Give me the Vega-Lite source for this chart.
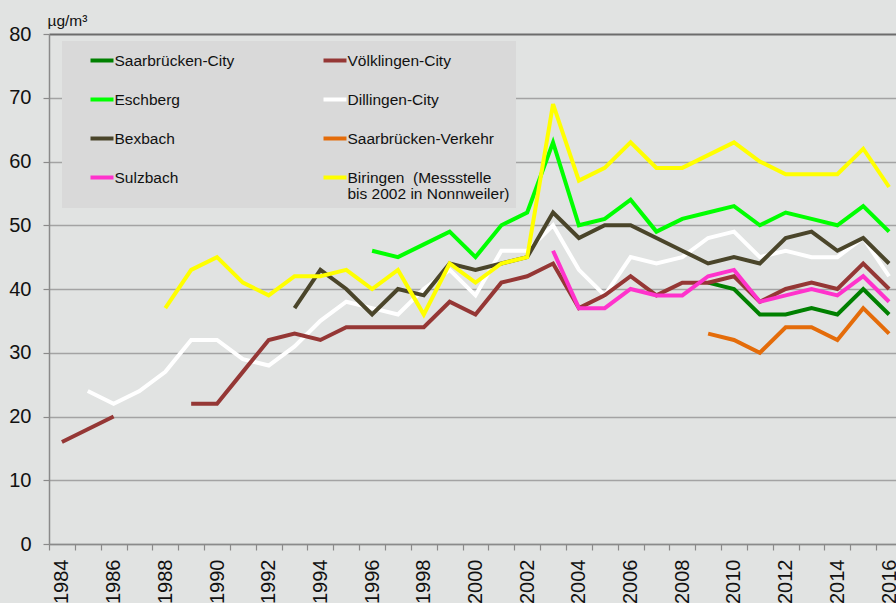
{
  "$schema": "https://vega.github.io/schema/vega-lite/v6.json",
  "width": 847,
  "height": 510,
  "autosize": {"type": "none"},
  "padding": {"left": 49, "top": 34, "right": 0, "bottom": 59},
  "background": "#e1e3e2",
  "config": {"view": {"stroke": null}, "font": "Liberation Sans"},
  "data": {"values": [
    {"station": "Saarbrücken-City", "year": 2009, "value": 41},
    {"station": "Saarbrücken-City", "year": 2010, "value": 40},
    {"station": "Saarbrücken-City", "year": 2011, "value": 36},
    {"station": "Saarbrücken-City", "year": 2012, "value": 36},
    {"station": "Saarbrücken-City", "year": 2013, "value": 37},
    {"station": "Saarbrücken-City", "year": 2014, "value": 36},
    {"station": "Saarbrücken-City", "year": 2015, "value": 40},
    {"station": "Saarbrücken-City", "year": 2016, "value": 36},
    {"station": "Dillingen-City", "year": 1985, "value": 24},
    {"station": "Dillingen-City", "year": 1986, "value": 22},
    {"station": "Dillingen-City", "year": 1987, "value": 24},
    {"station": "Dillingen-City", "year": 1988, "value": 27},
    {"station": "Dillingen-City", "year": 1989, "value": 32},
    {"station": "Dillingen-City", "year": 1990, "value": 32},
    {"station": "Dillingen-City", "year": 1991, "value": 29},
    {"station": "Dillingen-City", "year": 1992, "value": 28},
    {"station": "Dillingen-City", "year": 1993, "value": 31},
    {"station": "Dillingen-City", "year": 1994, "value": 35},
    {"station": "Dillingen-City", "year": 1995, "value": 38},
    {"station": "Dillingen-City", "year": 1996, "value": 37},
    {"station": "Dillingen-City", "year": 1997, "value": 36},
    {"station": "Dillingen-City", "year": 1998, "value": 40},
    {"station": "Dillingen-City", "year": 1999, "value": 43},
    {"station": "Dillingen-City", "year": 2000, "value": 39},
    {"station": "Dillingen-City", "year": 2001, "value": 46},
    {"station": "Dillingen-City", "year": 2002, "value": 46},
    {"station": "Dillingen-City", "year": 2003, "value": 50},
    {"station": "Dillingen-City", "year": 2004, "value": 43},
    {"station": "Dillingen-City", "year": 2005, "value": 39},
    {"station": "Dillingen-City", "year": 2006, "value": 45},
    {"station": "Dillingen-City", "year": 2007, "value": 44},
    {"station": "Dillingen-City", "year": 2008, "value": 45},
    {"station": "Dillingen-City", "year": 2009, "value": 48},
    {"station": "Dillingen-City", "year": 2010, "value": 49},
    {"station": "Dillingen-City", "year": 2011, "value": 45},
    {"station": "Dillingen-City", "year": 2012, "value": 46},
    {"station": "Dillingen-City", "year": 2013, "value": 45},
    {"station": "Dillingen-City", "year": 2014, "value": 45},
    {"station": "Dillingen-City", "year": 2015, "value": 48},
    {"station": "Dillingen-City", "year": 2016, "value": 42},
    {"station": "Völklingen-City", "year": 1984, "value": 16},
    {"station": "Völklingen-City", "year": 1985, "value": 18},
    {"station": "Völklingen-City", "year": 1986, "value": 20},
    {"station": "Völklingen-City", "year": 1987, "value": null},
    {"station": "Völklingen-City", "year": 1988, "value": null},
    {"station": "Völklingen-City", "year": 1989, "value": 22},
    {"station": "Völklingen-City", "year": 1990, "value": 22},
    {"station": "Völklingen-City", "year": 1991, "value": 27},
    {"station": "Völklingen-City", "year": 1992, "value": 32},
    {"station": "Völklingen-City", "year": 1993, "value": 33},
    {"station": "Völklingen-City", "year": 1994, "value": 32},
    {"station": "Völklingen-City", "year": 1995, "value": 34},
    {"station": "Völklingen-City", "year": 1996, "value": 34},
    {"station": "Völklingen-City", "year": 1997, "value": 34},
    {"station": "Völklingen-City", "year": 1998, "value": 34},
    {"station": "Völklingen-City", "year": 1999, "value": 38},
    {"station": "Völklingen-City", "year": 2000, "value": 36},
    {"station": "Völklingen-City", "year": 2001, "value": 41},
    {"station": "Völklingen-City", "year": 2002, "value": 42},
    {"station": "Völklingen-City", "year": 2003, "value": 44},
    {"station": "Völklingen-City", "year": 2004, "value": 37},
    {"station": "Völklingen-City", "year": 2005, "value": 39},
    {"station": "Völklingen-City", "year": 2006, "value": 42},
    {"station": "Völklingen-City", "year": 2007, "value": 39},
    {"station": "Völklingen-City", "year": 2008, "value": 41},
    {"station": "Völklingen-City", "year": 2009, "value": 41},
    {"station": "Völklingen-City", "year": 2010, "value": 42},
    {"station": "Völklingen-City", "year": 2011, "value": 38},
    {"station": "Völklingen-City", "year": 2012, "value": 40},
    {"station": "Völklingen-City", "year": 2013, "value": 41},
    {"station": "Völklingen-City", "year": 2014, "value": 40},
    {"station": "Völklingen-City", "year": 2015, "value": 44},
    {"station": "Völklingen-City", "year": 2016, "value": 40},
    {"station": "Bexbach", "year": 1993, "value": 37},
    {"station": "Bexbach", "year": 1994, "value": 43},
    {"station": "Bexbach", "year": 1995, "value": 40},
    {"station": "Bexbach", "year": 1996, "value": 36},
    {"station": "Bexbach", "year": 1997, "value": 40},
    {"station": "Bexbach", "year": 1998, "value": 39},
    {"station": "Bexbach", "year": 1999, "value": 44},
    {"station": "Bexbach", "year": 2000, "value": 43},
    {"station": "Bexbach", "year": 2001, "value": 44},
    {"station": "Bexbach", "year": 2002, "value": 45},
    {"station": "Bexbach", "year": 2003, "value": 52},
    {"station": "Bexbach", "year": 2004, "value": 48},
    {"station": "Bexbach", "year": 2005, "value": 50},
    {"station": "Bexbach", "year": 2006, "value": 50},
    {"station": "Bexbach", "year": 2007, "value": 48},
    {"station": "Bexbach", "year": 2008, "value": 46},
    {"station": "Bexbach", "year": 2009, "value": 44},
    {"station": "Bexbach", "year": 2010, "value": 45},
    {"station": "Bexbach", "year": 2011, "value": 44},
    {"station": "Bexbach", "year": 2012, "value": 48},
    {"station": "Bexbach", "year": 2013, "value": 49},
    {"station": "Bexbach", "year": 2014, "value": 46},
    {"station": "Bexbach", "year": 2015, "value": 48},
    {"station": "Bexbach", "year": 2016, "value": 44},
    {"station": "Eschberg", "year": 1996, "value": 46},
    {"station": "Eschberg", "year": 1997, "value": 45},
    {"station": "Eschberg", "year": 1998, "value": 47},
    {"station": "Eschberg", "year": 1999, "value": 49},
    {"station": "Eschberg", "year": 2000, "value": 45},
    {"station": "Eschberg", "year": 2001, "value": 50},
    {"station": "Eschberg", "year": 2002, "value": 52},
    {"station": "Eschberg", "year": 2003, "value": 63},
    {"station": "Eschberg", "year": 2004, "value": 50},
    {"station": "Eschberg", "year": 2005, "value": 51},
    {"station": "Eschberg", "year": 2006, "value": 54},
    {"station": "Eschberg", "year": 2007, "value": 49},
    {"station": "Eschberg", "year": 2008, "value": 51},
    {"station": "Eschberg", "year": 2009, "value": 52},
    {"station": "Eschberg", "year": 2010, "value": 53},
    {"station": "Eschberg", "year": 2011, "value": 50},
    {"station": "Eschberg", "year": 2012, "value": 52},
    {"station": "Eschberg", "year": 2013, "value": 51},
    {"station": "Eschberg", "year": 2014, "value": 50},
    {"station": "Eschberg", "year": 2015, "value": 53},
    {"station": "Eschberg", "year": 2016, "value": 49},
    {"station": "Sulzbach", "year": 2003, "value": 46},
    {"station": "Sulzbach", "year": 2004, "value": 37},
    {"station": "Sulzbach", "year": 2005, "value": 37},
    {"station": "Sulzbach", "year": 2006, "value": 40},
    {"station": "Sulzbach", "year": 2007, "value": 39},
    {"station": "Sulzbach", "year": 2008, "value": 39},
    {"station": "Sulzbach", "year": 2009, "value": 42},
    {"station": "Sulzbach", "year": 2010, "value": 43},
    {"station": "Sulzbach", "year": 2011, "value": 38},
    {"station": "Sulzbach", "year": 2012, "value": 39},
    {"station": "Sulzbach", "year": 2013, "value": 40},
    {"station": "Sulzbach", "year": 2014, "value": 39},
    {"station": "Sulzbach", "year": 2015, "value": 42},
    {"station": "Sulzbach", "year": 2016, "value": 38},
    {"station": "Saarbrücken-Verkehr", "year": 2009, "value": 33},
    {"station": "Saarbrücken-Verkehr", "year": 2010, "value": 32},
    {"station": "Saarbrücken-Verkehr", "year": 2011, "value": 30},
    {"station": "Saarbrücken-Verkehr", "year": 2012, "value": 34},
    {"station": "Saarbrücken-Verkehr", "year": 2013, "value": 34},
    {"station": "Saarbrücken-Verkehr", "year": 2014, "value": 32},
    {"station": "Saarbrücken-Verkehr", "year": 2015, "value": 37},
    {"station": "Saarbrücken-Verkehr", "year": 2016, "value": 33},
    {"station": "Biringen", "year": 1988, "value": 37},
    {"station": "Biringen", "year": 1989, "value": 43},
    {"station": "Biringen", "year": 1990, "value": 45},
    {"station": "Biringen", "year": 1991, "value": 41},
    {"station": "Biringen", "year": 1992, "value": 39},
    {"station": "Biringen", "year": 1993, "value": 42},
    {"station": "Biringen", "year": 1994, "value": 42},
    {"station": "Biringen", "year": 1995, "value": 43},
    {"station": "Biringen", "year": 1996, "value": 40},
    {"station": "Biringen", "year": 1997, "value": 43},
    {"station": "Biringen", "year": 1998, "value": 36},
    {"station": "Biringen", "year": 1999, "value": 44},
    {"station": "Biringen", "year": 2000, "value": 41},
    {"station": "Biringen", "year": 2001, "value": 44},
    {"station": "Biringen", "year": 2002, "value": 45},
    {"station": "Biringen", "year": 2003, "value": 69},
    {"station": "Biringen", "year": 2004, "value": 57},
    {"station": "Biringen", "year": 2005, "value": 59},
    {"station": "Biringen", "year": 2006, "value": 63},
    {"station": "Biringen", "year": 2007, "value": 59},
    {"station": "Biringen", "year": 2008, "value": 59},
    {"station": "Biringen", "year": 2009, "value": 61},
    {"station": "Biringen", "year": 2010, "value": 63},
    {"station": "Biringen", "year": 2011, "value": 60},
    {"station": "Biringen", "year": 2012, "value": 58},
    {"station": "Biringen", "year": 2013, "value": 58},
    {"station": "Biringen", "year": 2014, "value": 58},
    {"station": "Biringen", "year": 2015, "value": 62},
    {"station": "Biringen", "year": 2016, "value": 56}
  ]},
  "mark": {"type": "line", "strokeWidth": 4, "strokeJoin": "miter"},
  "encoding": {
    "x": {
      "field": "year",
      "type": "ordinal",
      "bandPosition": 0.5,
      "scale": {
        "type": "band",
        "domain": [1984,1985,1986,1987,1988,1989,1990,1991,1992,1993,1994,1995,1996,1997,1998,1999,2000,2001,2002,2003,2004,2005,2006,2007,2008,2009,2010,2011,2012,2013,2014,2015,2016],
        "range": [0, 853],
        "paddingInner": 0,
        "paddingOuter": 0
      },
      "axis": {
        "title": null,
        "labelAngle": -90,
        "labelAlign": "right",
        "labelBaseline": "middle",
        "labelFontSize": 20,
        "labelColor": "#111111",
        "labelPadding": 9,
        "labelOverlap": false,
        "labelExpr": "datum.value % 2 == 0 ? datum.label : ''",
        "tickBand": "extent",
        "grid": false,
        "domainColor": "#8a8a8a",
        "domainWidth": 1.5,
        "tickColor": "#8a8a8a",
        "tickWidth": 1.2,
        "tickSize": 6
      }
    },
    "y": {
      "field": "value",
      "type": "quantitative",
      "scale": {"domain": [0, 80], "nice": false},
      "axis": {
        "title": "µg/m³",
        "titleAngle": 0,
        "titleAlign": "left",
        "titleBaseline": "alphabetic",
        "titleX": -2,
        "titleY": -9,
        "titleFontSize": 15.5,
        "titleFontWeight": "normal",
        "titleColor": "#111111",
        "values": [0, 10, 20, 30, 40, 50, 60, 70, 80],
        "labelFontSize": 20,
        "labelColor": "#111111",
        "labelPadding": 12,
        "tickSize": 6,
        "tickColor": "#8a8a8a",
        "tickWidth": 1.2,
        "domainColor": "#8a8a8a",
        "domainWidth": 1.5,
        "gridColor": {"condition": {"test": "datum.value == 80", "value": "#6c6c6c"}, "value": "#a3a3a3"},
        "gridWidth": {"condition": {"test": "datum.value == 80", "value": 2}, "value": 1.3}
      }
    },
    "color": {
      "field": "station",
      "type": "nominal",
      "scale": {
        "domain": ["Saarbrücken-City", "Völklingen-City", "Eschberg", "Dillingen-City", "Bexbach", "Saarbrücken-Verkehr", "Sulzbach", "Biringen"],
        "range": ["#008000", "#953735", "#00ff00", "#ffffff", "#4a452a", "#e46c0a", "#ff33cc", "#ffff00"]
      },
      "legend": {
        "title": null,
        "orient": "none",
        "direction": "horizontal",
        "legendX": 13,
        "legendY": 7,
        "columns": 2,
        "symbolType": "stroke",
        "symbolSize": 529,
        "symbolStrokeWidth": 4,
        "labelFontSize": 15.5,
        "labelColor": "#111111",
        "labelLimit": 400,
        "padding": 6,
        "symbolOffset": 20.5,
        "labelOffset": -1,
        "rowPadding": 17,
        "columnPadding": 66,
        "fillColor": "#d9d9d9",
        "labelExpr": "datum.label == 'Biringen' ? ['Biringen\u00a0\u00a0(Messstelle', '\u00a0\u00a0bis 2002 in Nonnweiler)\u00a0\u00a0'] : datum.label",
        "encode": {
          "labels": {"update": {"lineHeight": {"value": 16}}}
        }
      }
    }
  }
}
